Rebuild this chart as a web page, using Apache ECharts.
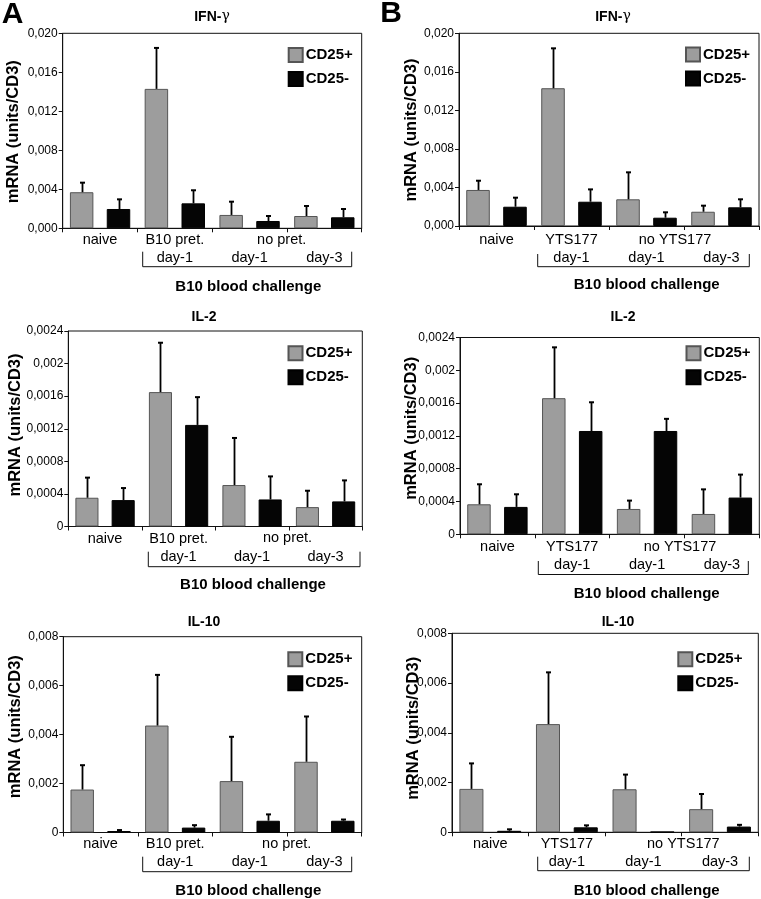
<!DOCTYPE html>
<html><head><meta charset="utf-8">
<script src="https://cdn.jsdelivr.net/npm/echarts@6/dist/echarts.min.js"></script>
<style>html,body{margin:0;padding:0;background:#fff}#c{width:761px;height:899px}</style>
</head><body><div id="c"></div><script>
// ---------- data ----------
const seriesNames = ['CD25+', 'CD25-'];
const categoriesA = ['naive', 'B10 pret.\nday-1', '\nday-1', '\nday-3'];
const categoriesB = ['naive', 'YTS177\nday-1', '\nday-1', '\nday-3'];
const groupLabelA = 'no pret.';
const groupLabelB = 'no YTS177';
const captionText = 'B10 blood challenge';
const yAxisTitle = 'mRNA (units/CD3)';
const panelLetters = ['A', 'B'];

const ticksIFN = ['0,000', '0,004', '0,008', '0,012', '0,016', '0,020'];
const ticksIL2 = ['0', '0,0004', '0,0008', '0,0012', '0,0016', '0,002', '0,0024'];
const ticksIL10 = ['0', '0,002', '0,004', '0,006', '0,008'];

// IFN-gamma
const ifnA_pos = [0.0037, 0.0143, 0.00137, 0.00126];
const ifnA_pos_sd = [0.00098, 0.0042, 0.00136, 0.00103];
const ifnA_neg = [0.00198, 0.00256, 0.00075, 0.00113];
const ifnA_neg_sd = [0.00099, 0.00134, 0.00051, 0.00085];
const ifnB_pos = [0.00374, 0.0143, 0.00277, 0.00148];
const ifnB_pos_sd = [0.00096, 0.00414, 0.0028, 0.00063];
const ifnB_neg = [0.002, 0.00252, 0.00086, 0.00194];
const ifnB_neg_sd = [0.00094, 0.00128, 0.00056, 0.00083];
// IL-2
const il2A_pos = [0.000353, 0.00165, 0.000509, 0.000238];
const il2A_pos_sd = [0.000247, 0.000606, 0.000578, 0.000201];
const il2A_neg = [0.000324, 0.001247, 0.000332, 0.000308];
const il2A_neg_sd = [0.000148, 0.000341, 0.000283, 0.000258];
const il2B_pos = [0.000366, 0.00166, 0.000309, 0.000248];
const il2B_pos_sd = [0.000244, 0.00062, 0.000102, 0.0003];
const il2B_neg = [0.000334, 0.00126, 0.00126, 0.000448];
const il2B_neg_sd = [0.000154, 0.00035, 0.000148, 0.00028];
// IL-10
const il10A_pos = [0.001755, 0.00437, 0.0021, 0.00289];
const il10A_pos_sd = [0.000995, 0.00207, 0.00181, 0.00185];
const il10A_neg = [0.00006, 0.0002, 0.00048, 0.00048];
const il10A_neg_sd = [0.00004, 0.0001, 0.00026, 0.00005];
const il10B_pos = [0.001745, 0.00435, 0.00173, 0.00093];
const il10B_pos_sd = [0.001025, 0.00208, 0.00059, 0.00061];
const il10B_neg = [0.00006, 0.0002, 0.00002, 0.00023];
const il10B_neg_sd = [0.00006, 0.00008, 0, 0.00007];

// ---------- layout / style ----------
const FONT = '"Liberation Sans", Arial, Helvetica, sans-serif';
const GRAY = '#9d9d9d';
const BLACK = '#050505';
const BAR_FRAC = 0.314, BAR_GAP = 0.57;

const panels = [
  { title: 'IFN-', gamma: true, cats: categoriesA, group: groupLabelA, ticks: ticksIFN, max: 0.02, interval: 0.004,
    pos: ifnA_pos, posSd: ifnA_pos_sd, neg: ifnA_neg, negSd: ifnA_neg_sd,
    grid: { l: 62.7, t: 33.3, w: 299, h: 195 }, titleXY: [212, 16.7], yName: [13.3, 131.7], legend: [287.7, 47],
    margin: 3, bracket: [142.7, 351.7, 251.7, 266.7], caption: [248.3, 286.7], groupXY: [281.7, 240] },
  { title: 'IFN-', gamma: true, cats: categoriesB, group: groupLabelB, ticks: ticksIFN, max: 0.02, interval: 0.004,
    pos: ifnB_pos, posSd: ifnB_pos_sd, neg: ifnB_neg, negSd: ifnB_neg_sd,
    grid: { l: 459, t: 33.3, w: 300, h: 192.7 }, titleXY: [613, 16.7], yName: [411.7, 130], legend: [685, 46.5],
    margin: 5, bracket: [537.7, 749.3, 254, 266.7], caption: [646.7, 285], groupXY: [675, 240] },
  { title: 'IL-2', cats: categoriesA, group: groupLabelA, ticks: ticksIL2, max: 0.0024, interval: 0.0004,
    pos: il2A_pos, posSd: il2A_pos_sd, neg: il2A_neg, negSd: il2A_neg_sd,
    grid: { l: 68.3, t: 331, w: 294, h: 195.5 }, titleXY: [204, 316.7], yName: [15, 425], legend: [287.5, 345.3],
    margin: 3, bracket: [148.3, 360, 551.7, 566.7], caption: [253, 585], groupXY: [287.5, 538.3] },
  { title: 'IL-2', cats: categoriesB, group: groupLabelB, ticks: ticksIL2, max: 0.0024, interval: 0.0004,
    pos: il2B_pos, posSd: il2B_pos_sd, neg: il2B_neg, negSd: il2B_neg_sd,
    grid: { l: 460, t: 337.5, w: 299.3, h: 196.8 }, titleXY: [623, 316.7], yName: [411.7, 428.3], legend: [685.5, 345.3],
    margin: 3.5, bracket: [538.3, 748.3, 561, 574.5], caption: [646.7, 594], groupXY: [680, 546.7] },
  { title: 'IL-10', cats: categoriesA, group: groupLabelA, ticks: ticksIL10, max: 0.008, interval: 0.002,
    pos: il10A_pos, posSd: il10A_pos_sd, neg: il10A_neg, negSd: il10A_neg_sd,
    grid: { l: 63.3, t: 636.7, w: 298.4, h: 195.8 }, titleXY: [204, 621.7], yName: [15, 726.7], legend: [287.3, 651.3],
    margin: 2.5, bracket: [142.7, 351.7, 856.7, 871.7], caption: [248.3, 891], groupXY: [286.7, 844] },
  { title: 'IL-10', cats: categoriesB, group: groupLabelB, ticks: ticksIL10, max: 0.008, interval: 0.002,
    pos: il10B_pos, posSd: il10B_pos_sd, neg: il10B_neg, negSd: il10B_neg_sd,
    grid: { l: 452, t: 633.3, w: 306.3, h: 199 }, titleXY: [618, 621.7], yName: [413, 728.3], legend: [677.3, 651.3],
    margin: 2.5, bracket: [537.7, 749.3, 856.7, 870.7], caption: [646.7, 891], groupXY: [683.3, 844] }
];

function errRender(sign) {
  return function (params, api) {
    const band = api.size([1, 0])[0];
    const bw = band * BAR_FRAC;
    const off = sign * (bw + bw * BAR_GAP) / 2;
    const p0 = api.coord([api.value(0), api.value(1)]);
    const p1 = api.coord([api.value(0), api.value(1) + api.value(2)]);
    const x = Math.round(p0[0] + off) + 0.5;
    if (api.value(2) <= 0) return null;
    return {
      type: 'group',
      children: [
        { type: 'line', shape: { x1: x, y1: p0[1], x2: x, y2: p1[1] }, style: { stroke: '#000', lineWidth: 1.8 } },
        { type: 'line', shape: { x1: x - 2.5, y1: p1[1], x2: x + 2.5, y2: p1[1] }, style: { stroke: '#000', lineWidth: 2 } }
      ]
    };
  };
}

const grids = [], xAxes = [], yAxes = [], series = [], legends = [], graphics = [];
panels.forEach((p, i) => {
  grids.push({ left: p.grid.l, top: p.grid.t, width: p.grid.w, height: p.grid.h,
    show: true, borderColor: '#111', borderWidth: 1, backgroundColor: 'transparent', containLabel: false });
  xAxes.push({ type: 'category', gridIndex: i, data: p.cats,
    axisLine: { lineStyle: { color: '#111', width: 1 } },
    axisTick: { show: true, length: 4, lineStyle: { color: '#111' } },
    axisLabel: { color: '#000', fontSize: 14.5, fontFamily: FONT, lineHeight: 18, margin: p.margin, interval: 0 } });
  yAxes.push({ type: 'value', gridIndex: i, min: 0, max: p.max, interval: p.interval,
    splitLine: { show: false },
    axisLine: { show: true, lineStyle: { color: '#111', width: 1 } },
    axisTick: { show: true, length: 4, lineStyle: { color: '#111' } },
    axisLabel: { color: '#000', fontSize: 12, fontFamily: FONT, margin: 5,
      formatter: (v) => p.ticks[Math.round(v / p.interval)] } });
  series.push({ name: seriesNames[0], type: 'bar', xAxisIndex: i, yAxisIndex: i, data: p.pos,
    barWidth: (BAR_FRAC * 100) + '%', barGap: (BAR_GAP * 100) + '%',
    itemStyle: { color: GRAY, borderColor: '#555', borderWidth: 1 } });
  series.push({ name: seriesNames[1], type: 'bar', xAxisIndex: i, yAxisIndex: i, data: p.neg,
    barWidth: (BAR_FRAC * 100) + '%', barGap: (BAR_GAP * 100) + '%',
    itemStyle: { color: BLACK, borderColor: '#000', borderWidth: 1 } });
  series.push({ name: 'errPos' + i, type: 'custom', xAxisIndex: i, yAxisIndex: i, z: 5,
    renderItem: errRender(-1), data: p.pos.map((v, k) => [k, v, p.posSd[k]]) });
  series.push({ name: 'errNeg' + i, type: 'custom', xAxisIndex: i, yAxisIndex: i, z: 5,
    renderItem: errRender(1), data: p.neg.map((v, k) => [k, v, p.negSd[k]]) });
  legends.push({ data: seriesNames, orient: 'vertical', left: p.legend[0], top: p.legend[1], padding: 0,
    itemWidth: 14, itemHeight: 14, itemGap: 8, icon: 'rect', selectedMode: false,
    textStyle: { fontSize: 15, fontWeight: 'bold', color: '#000', fontFamily: FONT, padding: [0, 0, 0, -2] } });
  // title
  if (p.gamma) {
    graphics.push({ type: 'text', x: p.titleXY[0], y: p.titleXY[1],
      style: { text: '{b|' + p.title + '}{g|γ}', align: 'center', verticalAlign: 'middle',
        rich: { b: { font: 'bold 14px ' + FONT, fill: '#000' }, g: { font: '14px "DejaVu Serif", serif', fill: '#000' } } } });
  } else {
    graphics.push({ type: 'text', x: p.titleXY[0], y: p.titleXY[1],
      style: { text: p.title, align: 'center', verticalAlign: 'middle', font: 'bold 14px ' + FONT, fill: '#000' } });
  }
  // y axis title
  graphics.push({ type: 'text', x: p.yName[0], y: p.yName[1], rotation: Math.PI / 2,
    style: { text: yAxisTitle, align: 'center', verticalAlign: 'middle', font: 'bold 16.5px ' + FONT, fill: '#000' } });
  // group label
  graphics.push({ type: 'text', x: p.groupXY[0], y: p.groupXY[1],
    style: { text: p.group, align: 'center', verticalAlign: 'middle', font: '14.5px ' + FONT, fill: '#000' } });
  // bracket
  const b = p.bracket;
  graphics.push({ type: 'polyline', shape: { points: [[b[0], b[2]], [b[0], b[3]], [b[1], b[3]], [b[1], b[2]]] },
    style: { stroke: '#111', fill: null, lineWidth: 1 } });
  // caption
  graphics.push({ type: 'text', x: p.caption[0], y: p.caption[1],
    style: { text: captionText, align: 'center', verticalAlign: 'middle', font: 'bold 15px ' + FONT, fill: '#000' } });
});
graphics.push({ type: 'text', x: 12.5, y: 15, style: { text: panelLetters[0], align: 'center', verticalAlign: 'middle', font: 'bold 30px ' + FONT, fill: '#000' } });
graphics.push({ type: 'text', x: 391, y: 14, style: { text: panelLetters[1], align: 'center', verticalAlign: 'middle', font: 'bold 30px ' + FONT, fill: '#000' } });

const chart = echarts.init(document.getElementById('c'), null, { renderer: 'canvas' });
chart.setOption({
  backgroundColor: '#fff',
  animation: false,
  grid: grids, xAxis: xAxes, yAxis: yAxes, series: series, legend: legends,
  graphic: { elements: graphics }
});
</script></body></html>
